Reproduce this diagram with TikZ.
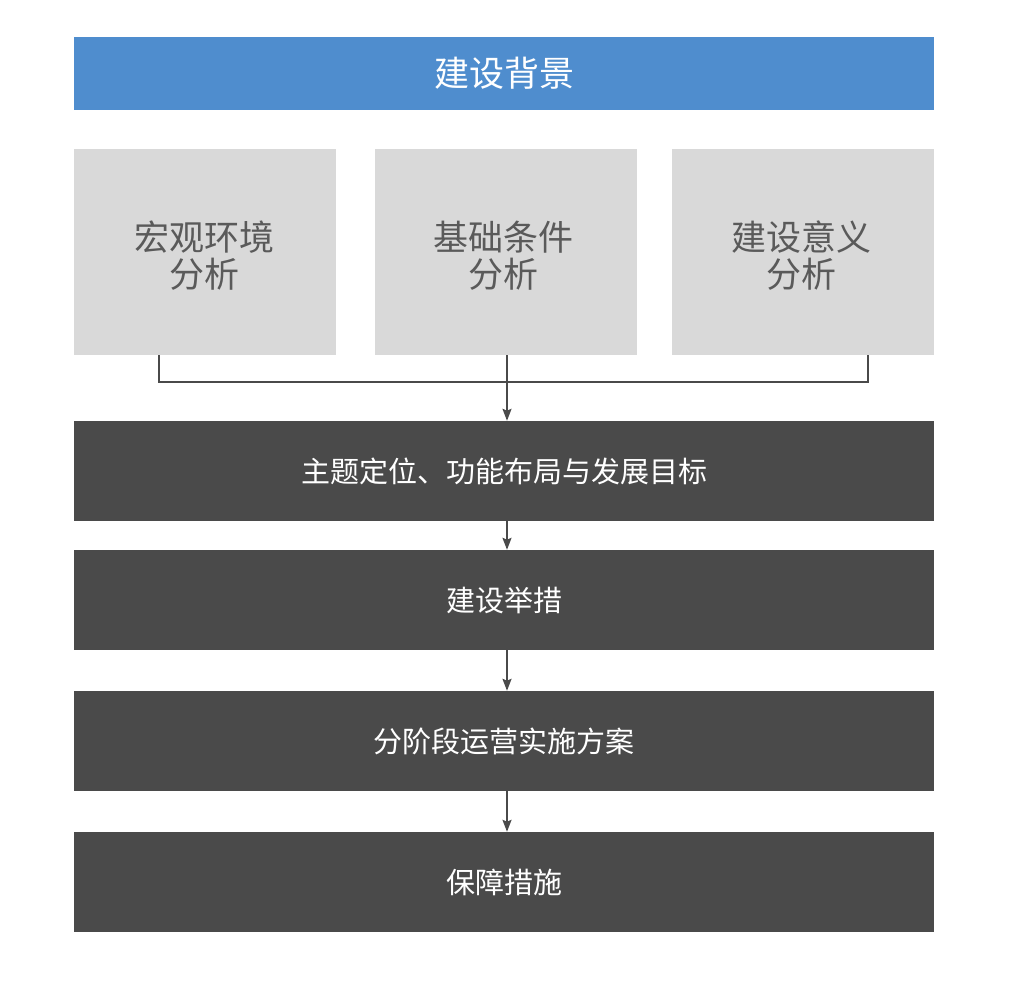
\documentclass[tikz,border=0pt]{standalone}
\usepackage{fontspec}
\setmainfont{Noto Sans CJK SC}
\usetikzlibrary{arrows.meta}
\definecolor{topblue}{RGB}{79,141,206}
\definecolor{boxgray}{RGB}{217,217,217}
\definecolor{txtgray}{RGB}{90,90,90}
\definecolor{darkbox}{RGB}{74,74,74}

\begin{document}
\begin{tikzpicture}[x=1pt, y=-1pt,
  head/.style={fill=topblue, text=white, inner sep=0pt, minimum width=860pt, minimum height=73pt, font=\fontsize{35}{38}\selectfont},
  part/.style={fill=boxgray, inner sep=0pt, minimum width=262pt, minimum height=206pt},
  parttxt/.style={text=txtgray, inner sep=0pt, align=center, font=\fontsize{35}{37}\selectfont},
  stage/.style={fill=darkbox, text=white, inner sep=0pt, minimum width=860pt, minimum height=100pt, font=\fontsize{29}{32}\selectfont},
  link/.style={draw=darkbox, line width=2pt},
  flow/.style={link, -{Stealth[length=12pt, width=9pt, inset=2pt]}}]
  \useasboundingbox (0,0) rectangle (1027,1000);
  % background and the three analyses
  \node[head] (bg) at (504,73.5) {建设背景};
  \node[part] (hongguan) at (205,252) {};
  \node[part] (jichu) at (506,252) {};
  \node[part] (yiyi) at (803,252) {};
  \node[parttxt] (hongguantxt) at (204,256) {宏观环境\\分析};
  \node[parttxt] (jichutxt) at (503,256) {基础条件\\分析};
  \node[parttxt] (yiyitxt) at (801,256) {建设意义\\分析};
  % stages
  \node[stage] (dingwei) at (504,471) {主题定位、功能布局与发展目标};
  \node[stage] (jucuo) at (504,600) {建设举措};
  \node[stage] (fangan) at (504,741) {分阶段运营实施方案};
  \node[stage] (baozhang) at (504,882) {保障措施};
  % joining lines
  \coordinate (lj) at (159,382);
  \coordinate (rj) at (868,382);
  \draw[link] (hongguan.south -| lj) -- (lj) -- (rj) -- (yiyi.south -| rj);
  \draw[flow] (jichu.south -| 507,0) -- (dingwei.north -| 507,0);
  \draw[flow] (dingwei.south -| 507,0) -- (jucuo.north -| 507,0);
  \draw[flow] (jucuo.south -| 507,0) -- (fangan.north -| 507,0);
  \draw[flow] (fangan.south -| 507,0) -- (baozhang.north -| 507,0);
\end{tikzpicture}
\end{document}
